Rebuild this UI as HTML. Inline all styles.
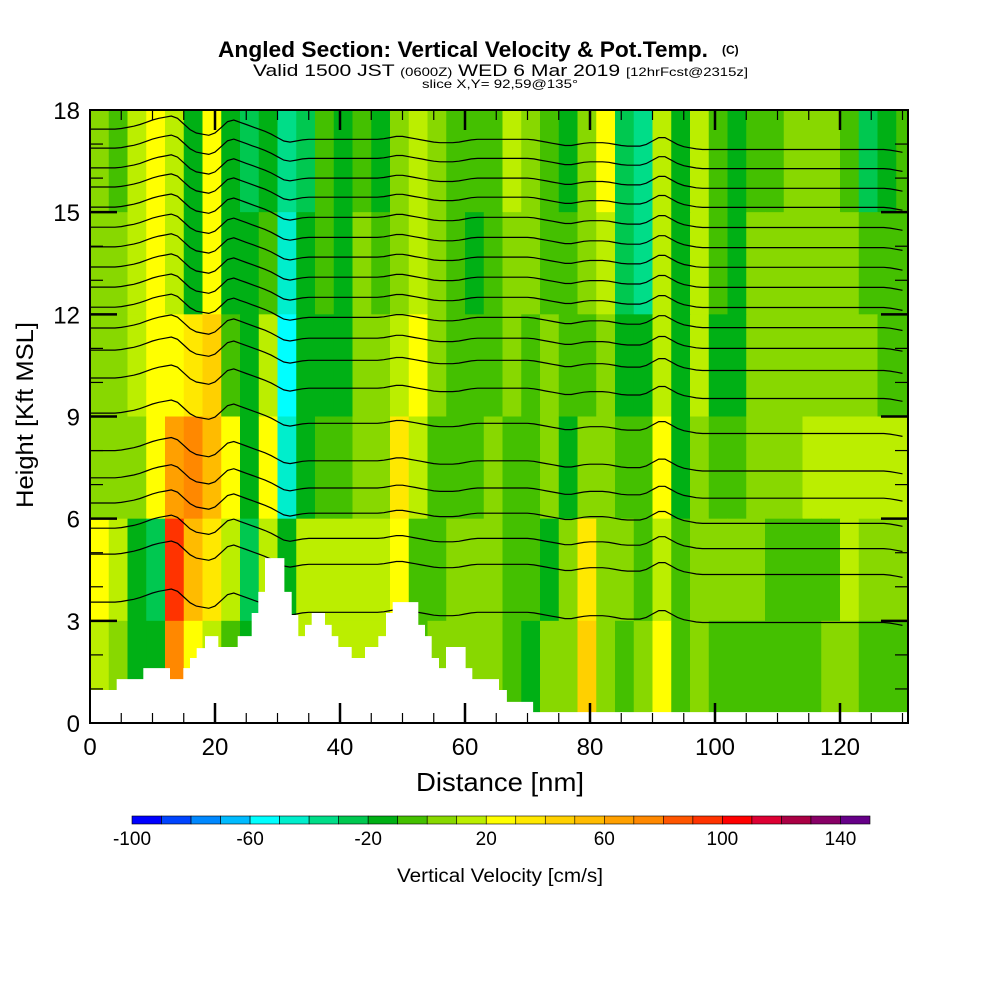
<!DOCTYPE html>
<html><head><meta charset="utf-8"><style>
html,body{margin:0;padding:0;background:#fff}
svg{display:block;font-family:"Liberation Sans",sans-serif}
</style></head><body>
<svg id="chart" width="1000" height="1000" viewBox="0 0 1000 1000" xmlns="http://www.w3.org/2000/svg">
<rect width="1000" height="1000" fill="#fff"/>
<g>
<text x="218" y="57" font-size="22" font-weight="bold" textLength="490" lengthAdjust="spacingAndGlyphs">Angled Section: Vertical Velocity &amp; Pot.Temp.</text>
<text x="722" y="54" font-size="12" font-weight="bold">(C)</text>
<text x="253" y="76" font-size="17" textLength="495" lengthAdjust="spacingAndGlyphs">Valid 1500 JST <tspan font-size="12">(0600Z)</tspan> WED 6 Mar 2019 <tspan font-size="12">[12hrFcst@2315z]</tspan></text>
<text x="422" y="88" font-size="12" textLength="156" lengthAdjust="spacingAndGlyphs">slice X,Y= 92,59@135°</text>
</g>
<g id="field"></g>
<g id="contours"></g>
<g id="terrain"></g>
<g id="axes"></g>
<g id="cbar"></g>
<text x="500" y="882" font-size="19" text-anchor="middle" textLength="206" lengthAdjust="spacingAndGlyphs">Vertical Velocity [cm/s]</text>
<text x="500" y="791" font-size="26" text-anchor="middle" textLength="168" lengthAdjust="spacingAndGlyphs">Distance [nm]</text>
<text transform="translate(33,415) rotate(-90)" font-size="24" text-anchor="middle" textLength="186" lengthAdjust="spacingAndGlyphs">Height [Kft MSL]</text>
</svg>
<script>
// ---- data ----
const colStepNm = 3;
const rowStepKft = 3;
// rows from top (18-15 kft) down to (3-0 kft); one value per 3-nm column (cm/s)
const row18 = [5,-5,15,25,15,-15,25,-15,-25,-15,-35,-25,-5,-15,-5,-15,5,15,5,-5,-5,-5,15,5,-5,-15,5,25,-25,-35,15,-15,15,-5,-15,-5,-5,5,5,5,-5,-25,-15,-5];
const row15 = [5,5,15,25,15,-15,25,-15,-15,-5,-45,-15,-5,-15,5,-5,5,15,5,-5,-15,-5,5,5,-5,-5,5,15,-25,-35,15,-15,15,-5,-15,5,5,5,5,5,5,-5,-5,-5];
const row12 = [5,5,15,25,25,35,45,-5,-15,15,-55,-15,-15,-15,5,5,15,25,5,-5,-5,-5,5,-5,5,-5,-5,5,-15,-15,15,-15,15,-15,-15,5,5,5,5,5,5,5,-5,-5];
const row9  = [5,5,5,25,65,75,55,25,-15,25,-45,-15,-5,-5,5,5,35,15,-5,-5,-5,5,-5,-5,5,-15,5,5,-5,-5,25,-15,5,-5,-5,5,5,5,15,15,15,15,15,15];
const row6  = [25,15,-15,-25,95,55,35,15,-25,15,-15,15,15,15,15,15,25,-5,-5,5,5,5,-5,-5,-15,5,35,5,5,-5,15,-5,5,5,5,5,-5,-5,-5,-5,15,5,5,5];
const row3  = [15,5,-15,-15,75,25,15,-5,-15,15,-15,15,15,15,15,15,25,-5,5,5,5,5,-5,-15,5,5,45,5,-5,5,25,-5,5,-5,-5,-5,-5,-5,-5,5,5,-5,-5,-5];
const fieldRows = [row18,row15,row12,row9,row6,row3];
// colorbar
const cbLevels = [-100,-90,-80,-70,-60,-50,-40,-30,-20,-10,0,10,20,30,40,50,60,70,80,90,100,110,120,130,140];
const cbColors = ["#0000ff","#0044ff","#0088ff","#00bbff","#00ffff","#00eecc","#00dd88","#00c850","#00b015","#44c000","#88d800","#bbee00","#ffff00","#ffe800","#ffd000","#ffbb00","#ffa000","#ff8800","#ff5500","#ff3300","#ff0000","#dd0033","#aa0044","#880066","#660088"];
const cbTickLabels = [-100,-60,-20,20,60,100,140];
// theta contour heights at x=0 (kft)
const thetaBase = [17.44,16.88,16.3,15.74,15.15,14.56,13.98,13.39,12.8,12.21,11.6,10.95,10.13,9.1,8.0,7.2,6.46,5.72,4.96,3.55];
// vertical displacement of contours per 3-nm column (kft)
const thetaDisp = [0,0,0.1,0.3,0.4,-0.1,-0.2,0.3,0.1,-0.1,-0.4,-0.3,-0.3,-0.3,-0.3,-0.3,-0.2,-0.3,-0.4,-0.4,-0.3,-0.3,-0.3,-0.3,-0.4,-0.5,-0.4,-0.4,-0.5,-0.5,-0.2,-0.5,-0.6,-0.6,-0.6,-0.6,-0.6,-0.6,-0.6,-0.6,-0.6,-0.6,-0.6,-0.7];
// terrain steps: start distance (nm) and height (kft)
const terrainNm = [0,4.27,8.53,12.8,14.93,16,17.07,18.4,20.53,23.63,25.87,26.93,28,31.1,32.27,33.33,34.4,35.47,37.6,38.67,39.73,41.87,44,46.13,47.36,48.43,52.53,53.6,54.67,55.84,56.96,60.1,61.17,65.44,66.7,70.9];
const terrainKft = [0.97,1.29,1.61,1.29,1.61,1.91,2.2,2.55,2.23,2.55,3.23,3.85,4.84,3.85,3.17,2.55,2.88,3.23,2.88,2.55,2.23,1.91,2.23,2.55,3.23,3.55,2.88,2.55,1.91,1.61,2.23,1.61,1.29,0.97,0.62,0.32];
const xTicks = [0,20,40,60,80,100,120];
const yTicks = [0,3,6,9,12,15,18];

// ---- axes ----
const X0=90, X1=908, Y0=723, Y1=110, XMAX=(X1-X0)/6.25;
const xs = nm => X0 + nm*6.25;
const ys = k => Y0 - k*(Y0-Y1)/18;
const NS="http://www.w3.org/2000/svg";
function mk(tag, attrs, parent){const e=document.createElementNS(NS,tag);for(const k in attrs)e.setAttribute(k,attrs[k]);parent.appendChild(e);return e;}
function colorFor(v){let i=Math.floor((v+100)/10);i=Math.max(0,Math.min(cbColors.length-1,i));return cbColors[i];}

const field=document.getElementById('field');
fieldRows.forEach((row,r)=>{
  row.forEach((v,c)=>{
    const x0=xs(c*colStepNm), x1=Math.min(X1,xs((c+1)*colStepNm));
    const ktop=18-r*rowStepKft, kbot=ktop-rowStepKft;
    const el=mk('rect',{x:x0,y:ys(ktop),width:Math.max(0,x1-x0)+0.5,height:ys(kbot)-ys(ktop)+0.5,fill:colorFor(v)},field);
    
    
  });
});

const cont=document.getElementById('contours');
function dispAt(nm){const p=nm/colStepNm-0.5;const i=Math.max(0,Math.min(thetaDisp.length-1,Math.floor(p)));const j=Math.min(thetaDisp.length-1,i+1);const f=Math.max(0,Math.min(1,p-i));return thetaDisp[i]*(1-f)+thetaDisp[j]*f;}
thetaBase.forEach(b=>{
  let pts=[];
  for(let nm=0;nm<=XMAX+0.01;nm+=1){pts.push(xs(Math.min(nm,XMAX)).toFixed(1)+','+ys(b+dispAt(nm)).toFixed(1));}
  const el=mk('polyline',{points:pts.join(' '),fill:'none',stroke:'#000','stroke-width':1.2},cont);
  
  
});

const ter=document.getElementById('terrain');
let tp=[xs(0)+','+ys(0)];
terrainNm.forEach((nm,i)=>{
  const end = i+1<terrainNm.length ? terrainNm[i+1] : XMAX;
  tp.push(xs(nm)+','+ys(terrainKft[i]));
  tp.push(xs(end)+','+ys(terrainKft[i]));
});
tp.push(xs(XMAX)+','+ys(0));
const terEl=mk('polygon',{points:tp.join(' '),fill:'#fff',stroke:'none'},ter);



// axes frame & ticks
const ax=document.getElementById('axes');
const fr=mk('rect',{x:X0,y:Y1,width:X1-X0,height:Y0-Y1,fill:'none',stroke:'#000','stroke-width':2},ax);


for(let nm=5;nm<XMAX;nm+=5){
  const major=nm%20===0, L=major?20:10, w=major?2.5:1.2;
  mk('line',{x1:xs(nm),x2:xs(nm),y1:Y0,y2:Y0-L,stroke:'#000','stroke-width':w},ax);
  mk('line',{x1:xs(nm),x2:xs(nm),y1:Y1,y2:Y1+L,stroke:'#000','stroke-width':w},ax);
}
for(let k=1;k<18;k++){
  const major=k%3===0, L=major?27:13, w=major?2.5:1.2;
  mk('line',{x1:X0,x2:X0+L,y1:ys(k),y2:ys(k),stroke:'#000','stroke-width':w},ax);
  mk('line',{x1:X1,x2:X1-L,y1:ys(k),y2:ys(k),stroke:'#000','stroke-width':w},ax);
}
xTicks.forEach(t=>{
  const el=mk('text',{x:xs(t),y:755,'font-size':24,'text-anchor':'middle'},ax);
  el.textContent=t;
  
  
});
yTicks.forEach(t=>{
  const el=mk('text',{x:80,y:ys(t)+9,'font-size':24,'text-anchor':'end'},ax);
  el.textContent=t;
  
  
});

// colorbar
const cb=document.getElementById('cbar');
const CB0=132, CBW=(870-132)/cbLevels.length;
const cbx = v => CB0 + (v-cbLevels[0])/10*CBW;
cbLevels.forEach((lv,i)=>{
  const el=mk('rect',{x:cbx(lv),y:816,width:CBW,height:8,fill:cbColors[i],stroke:'#000','stroke-width':0.6},cb);
  
  
});
cbTickLabels.forEach(t=>{
  const el=mk('text',{x:cbx(t),y:845,'font-size':19,'text-anchor':'middle'},cb);
  el.textContent=t;
  
  
});
</script>
</body></html>
